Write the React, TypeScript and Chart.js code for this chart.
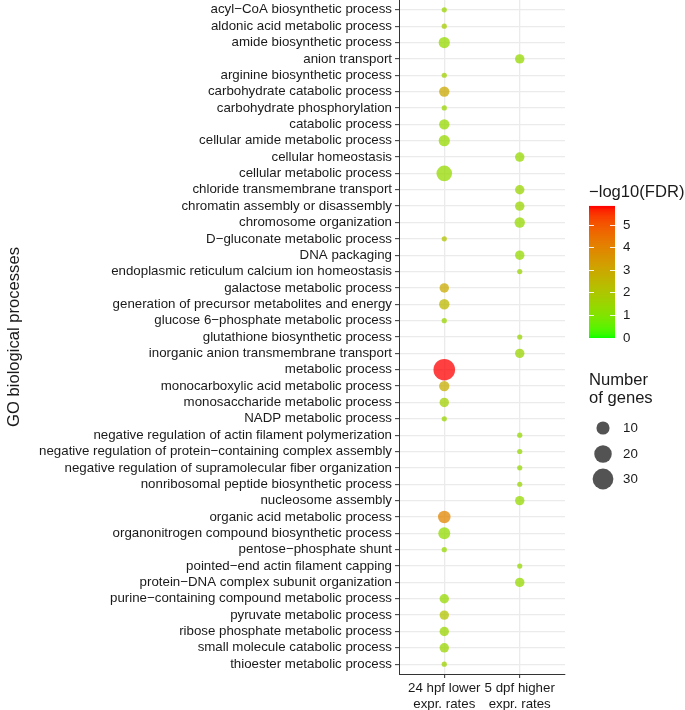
import { useEffect, useRef } from "react";
import { Chart, registerables } from "chart.js";
Chart.register(...registerables);

const groups: string[][] = [
  ["24 hpf lower", "expr. rates"],
  ["5 dpf higher", "expr. rates"],
];

const processes: string[] = [
  "acyl−CoA biosynthetic process",
  "aldonic acid metabolic process",
  "amide biosynthetic process",
  "anion transport",
  "arginine biosynthetic process",
  "carbohydrate catabolic process",
  "carbohydrate phosphorylation",
  "catabolic process",
  "cellular amide metabolic process",
  "cellular homeostasis",
  "cellular metabolic process",
  "chloride transmembrane transport",
  "chromatin assembly or disassembly",
  "chromosome organization",
  "D−gluconate metabolic process",
  "DNA packaging",
  "endoplasmic reticulum calcium ion homeostasis",
  "galactose metabolic process",
  "generation of precursor metabolites and energy",
  "glucose 6−phosphate metabolic process",
  "glutathione biosynthetic process",
  "inorganic anion transmembrane transport",
  "metabolic process",
  "monocarboxylic acid metabolic process",
  "monosaccharide metabolic process",
  "NADP metabolic process",
  "negative regulation of actin filament polymerization",
  "negative regulation of protein−containing complex assembly",
  "negative regulation of supramolecular fiber organization",
  "nonribosomal peptide biosynthetic process",
  "nucleosome assembly",
  "organic acid metabolic process",
  "organonitrogen compound biosynthetic process",
  "pentose−phosphate shunt",
  "pointed−end actin filament capping",
  "protein−DNA complex subunit organization",
  "purine−containing compound metabolic process",
  "pyruvate metabolic process",
  "ribose phosphate metabolic process",
  "small molecule catabolic process",
  "thioester metabolic process",
];

// 0 = 24 hpf lower expr. rates, 1 = 5 dpf higher expr. rates
const groupOf: number[] = [
  0, 0, 0, 1, 0, 0, 0, 0, 0, 1,
  0, 1, 1, 1, 0, 1, 1, 0, 0, 0,
  1, 1, 0, 0, 0, 0, 1, 1, 1, 1,
  1, 0, 0, 0, 1, 1, 0, 0, 0, 0,
  0,
];

const geneCounts: number[] = [
  3, 3, 7, 5, 3, 6, 3, 6, 7, 5,
  15, 5, 5, 6, 3, 5, 3, 5, 6, 3,
  3, 5, 33, 6, 5, 3, 3, 3, 3, 3,
  5, 9, 8, 3, 3, 5, 5, 5, 5, 5,
  3,
];

const negLog10FDR: number[] = [
  1.5, 1.8, 1.4, 1.4, 1.7, 3.0, 1.5, 1.4, 1.4, 1.4,
  1.4, 1.5, 1.5, 1.4, 2.1, 1.4, 1.5, 2.9, 2.5, 1.5,
  1.5, 1.5, 5.8, 2.8, 1.7, 1.5, 1.4, 1.4, 1.4, 1.5,
  1.4, 4.0, 1.3, 1.4, 1.4, 1.4, 1.4, 2.1, 1.5, 1.5,
  1.6,
];

const colorTicks: number[] = [0, 1, 2, 3, 4, 5];
const sizeBreaks: number[] = [10, 20, 30];

const FONT = "'Liberation Sans', Arial, sans-serif";
const TEXT = "#1a1a1a";

// ---- colour scale (Lab interpolation green -> red, like ggplot) ----
function toLin(c: number) {
  c /= 255;
  return c <= 0.04045 ? c / 12.92 : Math.pow((c + 0.055) / 1.055, 2.4);
}
function fromLin(c: number) {
  const v = c <= 0.0031308 ? 12.92 * c : 1.055 * Math.pow(c, 1 / 2.4) - 0.055;
  return Math.round(Math.max(0, Math.min(1, v)) * 255);
}
function rgbToLab(r: number, g: number, b: number) {
  const R = toLin(r), G = toLin(g), B = toLin(b);
  const X = (0.4124 * R + 0.3576 * G + 0.1805 * B) / 0.95047;
  const Y = 0.2126 * R + 0.7152 * G + 0.0722 * B;
  const Z = (0.0193 * R + 0.1192 * G + 0.9505 * B) / 1.08883;
  const f = (t: number) => (t > 0.008856 ? Math.cbrt(t) : 7.787 * t + 16 / 116);
  const fx = f(X), fy = f(Y), fz = f(Z);
  return [116 * fy - 16, 500 * (fx - fy), 200 * (fy - fz)];
}
function labToRgb(L: number, a: number, bb: number) {
  const fy = (L + 16) / 116;
  const fx = fy + a / 500;
  const fz = fy - bb / 200;
  const inv = (t: number) => (t ** 3 > 0.008856 ? t ** 3 : (t - 16 / 116) / 7.787);
  const X = inv(fx) * 0.95047, Y = inv(fy), Z = inv(fz) * 1.08883;
  const R = 3.2406 * X - 1.5372 * Y - 0.4986 * Z;
  const G = -0.9689 * X + 1.8758 * Y + 0.0415 * Z;
  const B = 0.0557 * X - 0.204 * Y + 1.057 * Z;
  return [fromLin(R), fromLin(G), fromLin(B)];
}
const LOW = rgbToLab(0, 255, 0);
const HIGH = rgbToLab(255, 0, 0);
const cMin = 0;
const cMax = Math.max(...negLog10FDR);
function colorFor(v: number, alpha = 1) {
  const t = Math.max(0, Math.min(1, (v - cMin) / (cMax - cMin)));
  const [r, g, b] = labToRgb(
    LOW[0] + (HIGH[0] - LOW[0]) * t,
    LOW[1] + (HIGH[1] - LOW[1]) * t,
    LOW[2] + (HIGH[2] - LOW[2]) * t
  );
  return `rgba(${r},${g},${b},${alpha})`;
}

// ---- size scale (area) ----
const nMin = Math.min(...geneCounts);
const nMax = Math.max(...geneCounts);
const R_MIN = 2.6;
const R_MAX = 10.8;
function radiusFor(n: number) {
  const t = Math.max(0, (n - nMin) / (nMax - nMin));
  return R_MIN + (R_MAX - R_MIN) * Math.sqrt(t);
}

const legendPlugin = {
  id: "ggLegend",
  afterDraw(chart: any) {
    const ctx = chart.ctx as CanvasRenderingContext2D;
    ctx.save();
    // y axis title
    const area = chart.chartArea;
    ctx.save();
    ctx.translate(14.5, (area.top + area.bottom) / 2);
    ctx.rotate(-Math.PI / 2);
    ctx.fillStyle = TEXT;
    ctx.font = `16.6px ${FONT}`;
    ctx.textAlign = "center";
    ctx.textBaseline = "middle";
    ctx.fillText("GO biological processes", 0, 0);
    ctx.restore();

    // colour bar
    const bx = 589, bw = 26, bBottom = 337.5, unit = 22.6;
    const bTop = bBottom - (cMax - cMin) * unit;
    ctx.fillStyle = TEXT;
    ctx.font = `16.6px ${FONT}`;
    ctx.textAlign = "left";
    ctx.textBaseline = "middle";
    ctx.fillText("−log10(FDR)", 589, 192);
    const steps = 200;
    for (let i = 0; i < steps; i++) {
      const v0 = cMin + ((cMax - cMin) * i) / steps;
      const y0 = bBottom - (v0 - cMin) * unit;
      const h = ((cMax - cMin) * unit) / steps;
      ctx.fillStyle = colorFor(v0 + (cMax - cMin) / steps / 2);
      ctx.fillRect(bx, y0 - h - 0.5, bw, h + 1);
    }
    ctx.strokeStyle = "rgba(255,255,255,0.9)";
    ctx.lineWidth = 1;
    ctx.font = `13.3px ${FONT}`;
    for (const t of colorTicks) {
      const y = Math.round(bBottom - (t - cMin) * unit) + 0.5;
      if (y > bTop && y <= bBottom) {
        ctx.beginPath();
        ctx.moveTo(bx, y);
        ctx.lineTo(bx + 5, y);
        ctx.moveTo(bx + bw - 5, y);
        ctx.lineTo(bx + bw, y);
        ctx.stroke();
      }
      ctx.fillStyle = TEXT;
      ctx.fillText(String(t), 623, y);
    }

    // size legend
    ctx.fillStyle = TEXT;
    ctx.font = `16.6px ${FONT}`;
    ctx.fillText("Number", 589, 380);
    ctx.fillText("of genes", 589, 398);
    const ys = [428, 454, 479];
    ctx.font = `13.3px ${FONT}`;
    sizeBreaks.forEach((s, i) => {
      ctx.beginPath();
      ctx.arc(603, ys[i], radiusFor(s), 0, Math.PI * 2);
      ctx.fillStyle = "rgba(40,40,40,0.8)";
      ctx.fill();
      ctx.fillStyle = TEXT;
      ctx.fillText(String(s), 623, ys[i]);
    });
    ctx.restore();
  },
};

export default function App() {
  const ref = useRef<HTMLCanvasElement | null>(null);
  useEffect(() => {
    if (!ref.current) return;
    const points = processes.map((p, i) => ({
      x: groupOf[i] + 1,
      y: i + 1,
      n: geneCounts[i],
      f: negLog10FDR[i],
    }));
    const chart = new Chart(ref.current, {
      type: "scatter",
      data: {
        datasets: [
          {
            data: points as any,
            pointRadius: (c: any) => radiusFor(c.raw.n),
            pointHoverRadius: (c: any) => radiusFor(c.raw.n),
            backgroundColor: (c: any) => colorFor(c.raw.f, 0.75),
            borderWidth: 0,
            clip: false as any,
          },
        ],
      },
      options: {
        animation: false,
        responsive: false,
        events: [],
        layout: { autoPadding: false, padding: { left: 0, right: 120, top: 0, bottom: 0 } },
        plugins: { legend: { display: false }, tooltip: { enabled: false } },
        scales: {
          x: {
            type: "linear",
            min: 0.4,
            max: 2.6,
            afterBuildTicks: (s: any) => {
              s.ticks = groups.map((_, i) => ({ value: i + 1 }));
            },
            afterFit: (s: any) => {
              s.height = 36;
              s.paddingLeft = 0;
              s.paddingRight = 0;
            },
            ticks: {
              autoSkip: false,
              maxRotation: 0,
              padding: 3,
              color: TEXT,
              font: { family: FONT, size: 13.3, lineHeight: 1.15 },
              callback: (_v: any, i: number) => groups[i],
            },
            grid: {
              color: "#EBEBEB",
              lineWidth: 1.3,
              tickColor: "#333",
              tickLength: 4,
              tickWidth: 1,
            },
            border: { display: true, color: "#333", width: 1 },
          },
          y: {
            type: "linear",
            reverse: true,
            min: 0.4,
            max: processes.length + 0.6,
            afterBuildTicks: (s: any) => {
              s.ticks = processes.map((_, i) => ({ value: i + 1 }));
            },
            afterFit: (s: any) => {
              s.width = 399;
              s.paddingTop = 0;
              s.paddingBottom = 0;
            },
            ticks: {
              autoSkip: false,
              padding: 3,
              color: TEXT,
              font: { family: FONT, size: 13.3 },
              callback: (_v: any, i: number) => processes[i],
            },
            grid: {
              color: "#EBEBEB",
              lineWidth: 1.3,
              tickColor: "#333",
              tickLength: 4,
              tickWidth: 1,
            },
            border: { display: true, color: "#333", width: 1 },
          },
        },
      },
      plugins: [legendPlugin],
    });
    return () => chart.destroy();
  }, []);
  return (
    <div style={{ position: "absolute", left: 0, top: 0, width: 685, height: 710, background: "#fff" }}>
      <canvas ref={ref} width={685} height={710} style={{ width: 685, height: 710 }} />
    </div>
  );
}
